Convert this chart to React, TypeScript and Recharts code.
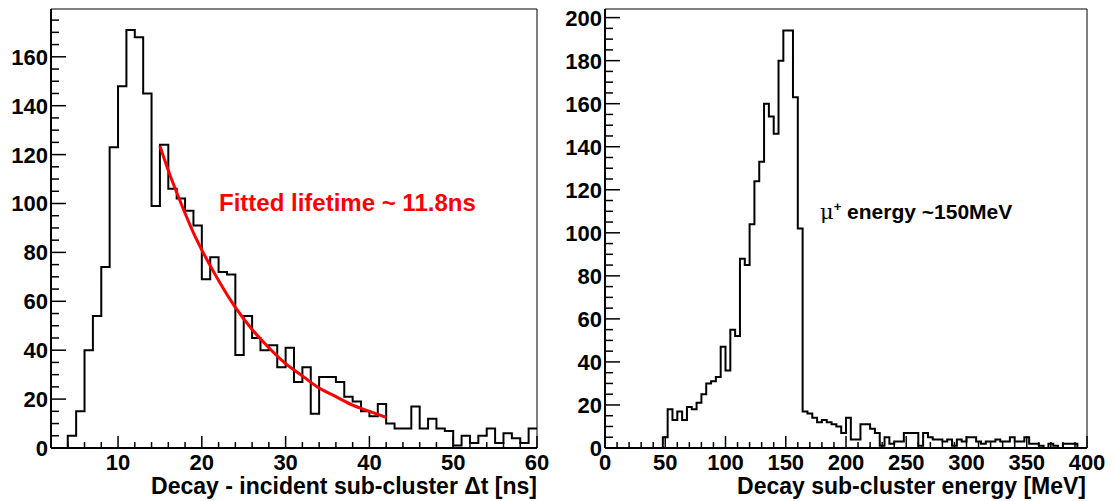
import { LineChart, Line, XAxis, YAxis, ReferenceArea } from 'recharts';

const FONT = '"Liberation Sans", Arial, Helvetica, sans-serif';

// left: decay - incident time difference, 1 ns bins from 2 to 60
const dtMin = 2;
const dtBin = 1;
const dtCounts = [
  0, 0, 5, 15, 40, 54, 74, 123, 148, 171, 168, 145, 99, 124, 106, 102, 97, 91,
  69, 78, 72, 71, 38, 54, 45, 40, 42, 33, 41, 27, 33, 14, 29, 29, 27, 21, 19, 15,
  13, 18, 10, 8, 8, 17, 8, 12, 8, 7, 1, 5, 2, 5, 8, 2, 6, 4, 2, 8,
];

// exponential fit
const fitT = [15, 16, 17, 18, 19, 20, 22, 24, 26, 28, 30, 32, 34, 36, 38, 40, 42];
const fitN = [123.5, 113.5, 104.5, 96, 88, 81, 68.5, 57.5, 48.5, 41, 34.5, 29.5, 24.5, 21, 17.5, 15, 12.5];

// right: decay sub-cluster energy, 4 MeV bins from 0 to 400
const eMin = 0;
const eBin = 4;
const eCounts = [
  0, 0, 0, 0, 0, 0, 0, 0, 0, 0, 0, 0,
  5, 18, 13, 17, 13, 19, 18, 21, 25, 30, 31, 33, 47, 36, 55, 52, 88, 85,
  104, 124, 133, 160, 154, 146, 180, 194, 194, 163, 102,
  17, 16, 14, 12, 13, 12, 11, 10, 7,
  14, 4, 4, 11, 11, 9, 7, 1, 5, 2,
  3, 3, 7, 7, 7, 1, 7, 5, 4, 4,
  3, 4, 1, 4, 3, 5, 5, 3, 2, 3,
  3, 4, 3, 3, 5, 3, 3, 5, 2, 2,
  1, 0, 2, 1, 0, 2, 2, 2, 0, 0,
];

const dtYMax = 179.55;
const eYMax = 204;

const toSteps = (lo: number, w: number, counts: number[]) => {
  const pts = counts.map((c, i) => ({ x: lo + i * w, c }));
  pts.push({ x: lo + counts.length * w, c: counts[counts.length - 1] });
  return pts;
};

const range = (a: number, b: number, s: number) => {
  const r: number[] = [];
  for (let v = a; v <= b + 1e-9; v += s) r.push(v);
  return r;
};

const dtHist = toSteps(dtMin, dtBin, dtCounts);
const fitData = fitT.map((t, i) => ({ x: t, c: fitN[i] }));
const eHist = toSteps(eMin, eBin, eCounts);

const xTick = (majorStep: number) => (p: any) => {
  const v = p.payload.value;
  const big = v % majorStep === 0;
  return (
    <g>
      <line x1={p.x} x2={p.x} y1={p.y} y2={p.y - (big ? 12 : 6)} stroke="#000" strokeWidth={1.5} />
      {big && (
        <text x={p.x} y={p.y + 22} textAnchor="middle" fontSize={22} fontWeight="bold" fontFamily={FONT} fill="#000">
          {v}
        </text>
      )}
    </g>
  );
};

const yTick = (majorStep: number) => (p: any) => {
  const v = p.payload.value;
  const big = v % majorStep === 0;
  return (
    <g>
      <line x1={p.x} x2={p.x + (big ? 15 : 8)} y1={p.y} y2={p.y} stroke="#000" strokeWidth={1.5} />
      {big && (
        <text x={p.x - 3} y={p.y} dy="0.36em" textAnchor="end" fontSize={22} fontWeight="bold" fontFamily={FONT} fill="#000">
          {v}
        </text>
      )}
    </g>
  );
};

const axisLine = { stroke: '#000', strokeWidth: 2 };

export default function App() {
  return (
    <div style={{ position: 'absolute', left: 0, top: 0, width: 1115, height: 501, background: '#fff' }}>
      <div style={{ position: 'absolute', left: 0, top: 0 }}>
        <LineChart width={560} height={501} margin={{ top: 9, right: 23, bottom: 0, left: 0 }}>
          <XAxis
            dataKey="x"
            type="number"
            domain={[2, 60]}
            ticks={range(4, 60, 2)}
            interval={0}
            height={53}
            tickSize={0}
            tickMargin={0}
            tickLine={false}
            axisLine={axisLine}
            tick={xTick(10)}
            allowDataOverflow
          />
          <YAxis
            type="number"
            domain={[0, dtYMax]}
            ticks={range(0, 175, 5)}
            interval={0}
            width={51}
            tickSize={0}
            tickMargin={0}
            tickLine={false}
            axisLine={axisLine}
            tick={yTick(20)}
            allowDataOverflow
          />
          <ReferenceArea x1={2} x2={60} y1={0} y2={dtYMax} fill="none" stroke="#000" strokeWidth={1} />
          <Line data={dtHist} dataKey="c" type="stepAfter" stroke="#000" strokeWidth={2} dot={false} activeDot={false} isAnimationActive={false} />
          <Line data={fitData} dataKey="c" type="monotone" stroke="#ff0000" strokeWidth={3} dot={false} activeDot={false} isAnimationActive={false} />
        </LineChart>
      </div>
      <div style={{ position: 'absolute', left: 555, top: 0 }}>
        <LineChart width={560} height={501} margin={{ top: 9, right: 28, bottom: 0, left: 0 }}>
          <XAxis
            dataKey="x"
            type="number"
            domain={[0, 400]}
            ticks={range(0, 400, 10)}
            interval={0}
            height={53}
            tickSize={0}
            tickMargin={0}
            tickLine={false}
            axisLine={axisLine}
            tick={xTick(50)}
            allowDataOverflow
          />
          <YAxis
            type="number"
            domain={[0, eYMax]}
            ticks={range(0, 200, 5)}
            interval={0}
            width={50}
            tickSize={0}
            tickMargin={0}
            tickLine={false}
            axisLine={axisLine}
            tick={yTick(20)}
            allowDataOverflow
          />
          <ReferenceArea x1={0} x2={400} y1={0} y2={eYMax} fill="none" stroke="#000" strokeWidth={1} />
          <Line data={eHist} dataKey="c" type="stepAfter" stroke="#000" strokeWidth={2} dot={false} activeDot={false} isAnimationActive={false} />
        </LineChart>
      </div>
      <svg width={1115} height={501} style={{ position: 'absolute', left: 0, top: 0, pointerEvents: 'none' }}>
        <g fontFamily={FONT} fontWeight="bold">
          <text x={537} y={494} fontSize={23} textAnchor="end" fill="#000">Decay - incident sub-cluster Δt [ns]</text>
          <text x={1086} y={494} fontSize={23} textAnchor="end" fill="#000">Decay sub-cluster energy [MeV]</text>
          <text x={219} y={211} fontSize={24} fill="#ff0000">Fitted lifetime ~ 11.8ns</text>
          <text x={820} y={219} fontSize={21} fill="#000">
            <tspan fontFamily='"DejaVu Serif", serif' fontWeight="normal">μ</tspan>
            <tspan fontSize={13} dy={-8}>+</tspan>
            <tspan dy={8}> energy ~150MeV</tspan>
          </text>
        </g>
      </svg>
    </div>
  );
}
